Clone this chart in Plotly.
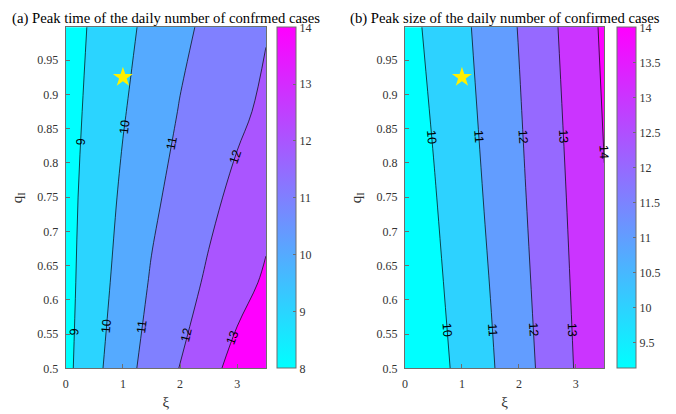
import math
import plotly.graph_objects as go

# grid (xi along x, q_I along y)
xi = [0, 0.5, 1, 1.5, 2, 2.5, 3, 3.5]
qa = [0.5, 0.625, 0.75, 0.875, 1.0]
qb = [0.5, 0.75, 1.0]

# (a) peak time, rows follow qa
peak_time = [
    [8.74, 9.72, 10.64, 11.38, 12.03, 12.70, 13.35, 13.95],
    [8.70, 9.55, 10.36, 11.09, 11.62, 12.14, 12.64, 13.14],
    [8.68, 9.42, 10.15, 10.81, 11.33, 11.78, 12.23, 12.69],
    [8.62, 9.28, 9.93, 10.51, 11.05, 11.43, 11.81, 12.18],
    [8.57, 9.15, 9.73, 10.27, 10.78, 11.20, 11.57, 11.94],
]
# (b) peak size, rows follow qb
peak_size = [
    [9.13, 9.66, 10.24, 10.89, 11.58, 12.30, 13.06, 13.82],
    [9.34, 9.93, 10.54, 11.16, 11.82, 12.52, 13.24, 13.96],
    [9.67, 10.23, 10.80, 11.41, 12.04, 12.74, 13.44, 14.16],
]

star_xi = [1.0]
star_q = [0.925]

# contour labels: (level, q_I height of the label)
labels_a = [(9, 0.831), (10, 0.853), (11, 0.829), (12, 0.809),
            (9, 0.553), (10, 0.562), (11, 0.560), (12, 0.549), (13, 0.544)]
labels_b = [(10, 0.838), (11, 0.838), (12, 0.838), (13, 0.838), (14, 0.816),
            (10, 0.556), (11, 0.556), (12, 0.556), (13, 0.556)]

titles = ["(a) Peak time of the daily number of confrmed cases",
          "(b) Peak size of the daily number of confirmed cases"]

cbar_a = [8, 14]
cbar_b = [9.13, 14]
ticks_a = [8, 9, 10, 11, 12, 13, 14]
ticks_b = [9.5, 10, 10.5, 11, 11.5, 12, 12.5, 13, 13.5, 14]
yticks = [0.5, 0.55, 0.6, 0.65, 0.7, 0.75, 0.8, 0.85, 0.9, 0.95]

cool = [[0, "rgb(0,255,255)"], [1, "rgb(255,0,255)"]]
fill_a = [[0, "rgb(0,255,255)"], [0.2, "rgb(43,212,255)"], [0.4, "rgb(85,170,255)"],
          [0.6, "rgb(128,128,255)"], [0.8, "rgb(170,85,255)"], [1, "rgb(255,0,255)"]]
fill_b = [[0, "rgb(0,255,255)"], [0.2, "rgb(45,210,255)"], [0.4, "rgb(98,157,255)"],
          [0.6, "rgb(150,105,255)"], [0.8, "rgb(203,52,255)"], [1, "rgb(255,0,255)"]]

SERIF = "Liberation Serif, Times New Roman, DejaVu Serif, serif"
GRAY = "#6e6e6e"
W, H = 676, 414
OFF = 8  # the page body adds 8px before the plot


def fx(px):
    return (px - OFF) / W


def fy(py):
    return 1 - (py - OFF) / H


XDOM_A = [fx(65.7), fx(265.9)]
XDOM_B = [fx(405.0), fx(604.3)]
YDOM = [fy(368.3), fy(27.3)]
CB_A = fx(277)
CB_B = fx(616.7)
XR = [0, 3.5]
YR = [0.5, 0.998]


def bilinear(z, xs, ys, x, y):
    i = max(0, min(len(xs) - 2, sum(1 for v in xs if v <= x) - 1))
    j = max(0, min(len(ys) - 2, sum(1 for v in ys if v <= y) - 1))
    tx = (x - xs[i]) / (xs[i + 1] - xs[i])
    ty = (y - ys[j]) / (ys[j + 1] - ys[j])
    return (z[j][i] * (1 - tx) * (1 - ty) + z[j][i + 1] * tx * (1 - ty)
            + z[j + 1][i] * (1 - tx) * ty + z[j + 1][i + 1] * tx * ty)


def label_spots(z, xs, ys, labels, xdom):
    # find where each level crosses its label height, and the line angle on screen
    px_x = (xdom[1] - xdom[0]) * W / (XR[1] - XR[0])
    px_y = (YDOM[1] - YDOM[0]) * H / (YR[1] - YR[0])
    out = []
    for lev, y0 in labels:
        xs_fine = [XR[0] + k * (XR[1] - XR[0]) / 700 for k in range(701)]
        vals = [bilinear(z, xs, ys, x, y0) - lev for x in xs_fine]
        x0 = None
        for k in range(700):
            if vals[k] == 0 or vals[k] * vals[k + 1] < 0:
                x0 = xs_fine[k] + (xs_fine[k + 1] - xs_fine[k]) * vals[k] / (vals[k] - vals[k + 1])
                break
        if x0 is None:
            continue
        h = 0.01
        gx = (bilinear(z, xs, ys, x0 + h, y0) - bilinear(z, xs, ys, x0 - h, y0)) / (2 * h) / px_x
        gy = (bilinear(z, xs, ys, x0, y0 + h) - bilinear(z, xs, ys, x0, y0 - h)) / (2 * h) / px_y
        ang = math.degrees(math.atan2(gx, -gy))
        while ang > 90:
            ang -= 180
        while ang <= -90:
            ang += 180
        out.append((lev, x0, y0, -ang))
    return out


fig = go.Figure()
annotations = []


def add_panel(z, yy, start, end, fill, cb_range, cb_ticks, xa, ya, cb_x, labels, xdom):
    fig.add_trace(go.Contour(
        x=xi, y=yy, z=z, xaxis=xa, yaxis=ya,
        autocontour=False,
        contours=dict(start=start, end=end, size=1, coloring="fill", showlabels=False),
        colorscale=fill, showscale=False,
        line=dict(color="black", width=0.7),
        hoverinfo="skip",
    ))
    # continuous colour bar like the original
    fig.add_trace(go.Scatter(
        x=[None], y=[None], xaxis=xa, yaxis=ya, mode="markers",
        marker=dict(color=[cb_range[0]], cmin=cb_range[0], cmax=cb_range[1],
                    colorscale=cool, showscale=True,
                    colorbar=dict(x=cb_x, xanchor="left", y=YDOM[0], yanchor="bottom",
                                  len=YDOM[1] - YDOM[0], ypad=0, xpad=0,
                                  thickness=19, outlinecolor=GRAY,
                                  outlinewidth=1, ticks="inside", ticklen=3,
                                  tickcolor=GRAY, tickvals=cb_ticks,
                                  tickfont=dict(family=SERIF, size=12, color="#333"))),
        showlegend=False, hoverinfo="skip",
    ))
    fig.add_trace(go.Scatter(
        x=star_xi, y=star_q, xaxis=xa, yaxis=ya, mode="markers",
        marker=dict(symbol="star", size=15, color="rgb(255,240,0)", line=dict(width=0)),
        showlegend=False, hoverinfo="skip",
    ))
    for lev, x0, y0, ang in label_spots(z, xi, yy, labels, xdom):
        annotations.append(dict(
            text=str(lev), x=x0, y=y0, xref=xa, yref=ya, showarrow=False,
            textangle=ang, xanchor="center", yanchor="middle",
            font=dict(family="Liberation Sans, Arial, sans-serif", size=12.5, color="black")))


add_panel(peak_time, qa, 9, 13, fill_a, cbar_a, ticks_a, "x", "y", CB_A, labels_a, XDOM_A)
add_panel(peak_size, qb, 10, 14, fill_b, cbar_b, ticks_b, "x2", "y2", CB_B, labels_b, XDOM_B)

axis_common = dict(showline=True, mirror=True, linecolor=GRAY, linewidth=1,
                   ticks="inside", ticklen=4, tickcolor=GRAY, showgrid=False,
                   zeroline=False, automargin=False, ticklabelstandoff=4,
                   tickfont=dict(family=SERIF, size=12, color="#333"))
xtitle = dict(text="ξ", font=dict(family=SERIF, size=15, color="#333"), standoff=6)
ytitle = dict(text="q<sub>I</sub>", font=dict(family=SERIF, size=15, color="#333"), standoff=11)

annotations += [
    dict(text=titles[0], xref="paper", yref="paper", x=sum(XDOM_A) / 2, y=fy(8),
         xanchor="center", yanchor="top", showarrow=False,
         font=dict(family=SERIF, size=14.7, color="black")),
    dict(text=titles[1], xref="paper", yref="paper", x=sum(XDOM_B) / 2, y=fy(8),
         xanchor="center", yanchor="top", showarrow=False,
         font=dict(family=SERIF, size=14.7, color="black")),
]

fig.update_layout(
    width=W, height=H,
    margin=dict(l=0, r=0, t=0, b=0),
    paper_bgcolor="white", plot_bgcolor="white",
    showlegend=False,
    xaxis=dict(domain=XDOM_A, range=XR, tickvals=[0, 1, 2, 3], title=xtitle,
               anchor="y", **axis_common),
    yaxis=dict(domain=YDOM, range=YR, tickvals=yticks, title=ytitle,
               anchor="x", **axis_common),
    xaxis2=dict(domain=XDOM_B, range=XR, tickvals=[0, 1, 2, 3], title=xtitle,
                anchor="y2", **axis_common),
    yaxis2=dict(domain=YDOM, range=YR, tickvals=yticks, title=ytitle,
                anchor="x2", **axis_common),
    annotations=annotations,
)

fig.write_html("out.html")
